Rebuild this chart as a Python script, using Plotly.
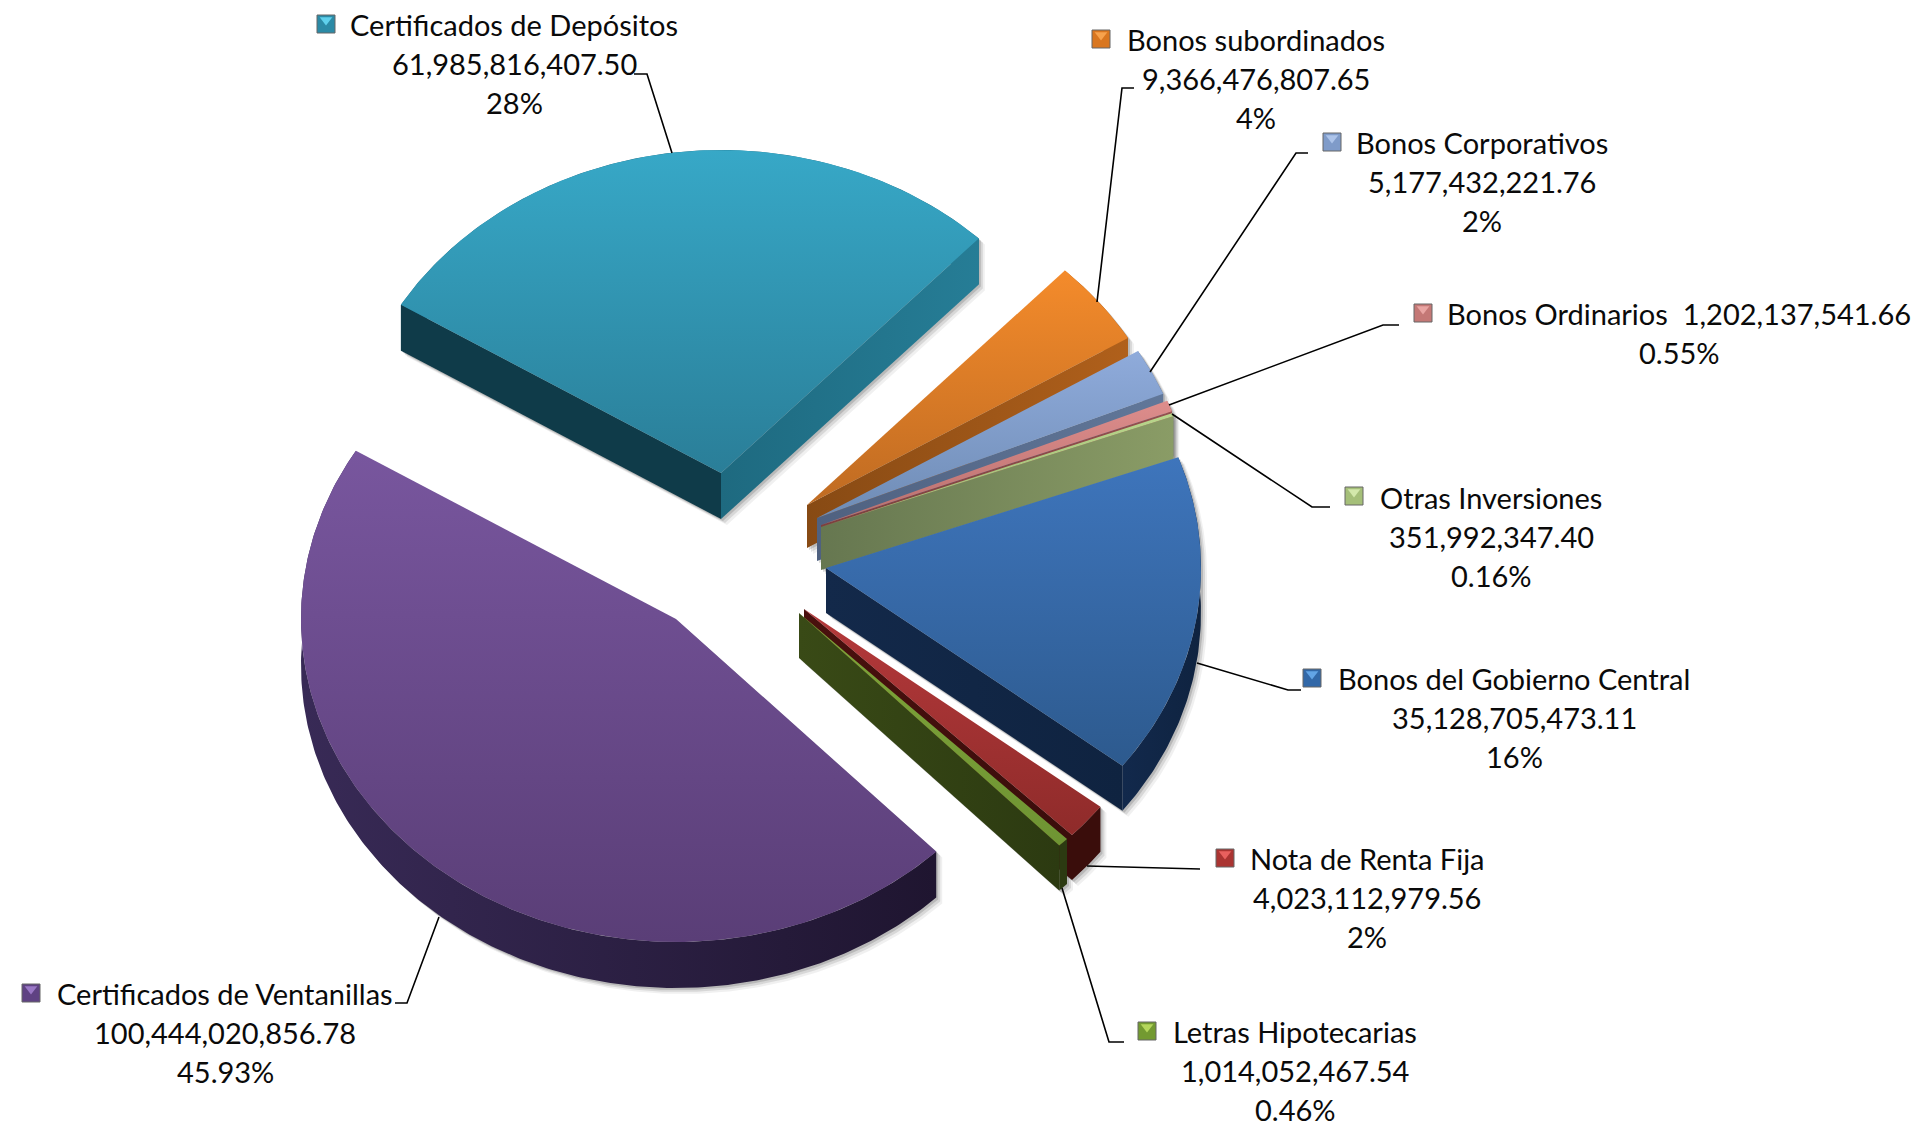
import math
import plotly.graph_objects as go

# ---------- data, clockwise from the start angle ----------
categories = ["Certificados de Depósitos", "Bonos subordinados", "Bonos Corporativos",
              "Bonos Ordinarios", "Otras Inversiones", "Bonos del Gobierno Central",
              "Nota de Renta Fija", "Letras Hipotecarias", "Certificados de Ventanillas"]
values = [61985816407.50, 9366476807.65, 5177432221.76,
          1202137541.66, 351992347.40, 35128705473.11,
          4023112979.56, 1014052467.54, 100444020856.78]
percent_labels = ["28%", "4%", "2%", "0.55%", "0.16%", "16%", "2%", "0.46%", "45.93%"]

# ---------- layout / style ----------
W, H = 1922, 1129
RX, RY = 375, 323
START_DEG = 148.6
FONT = "Lato"
FONT_SIZE = 29
LINE_STEP = 39

apex = [(721, 473), (807, 505), (817, 518), (821, 525), (821, 527),
        (826, 568), (804, 609), (799, 613), (676, 619)]
depths = [46, 43, 43, 43, 43, 45, 45, 45, 46]

# top gradient (top, bottom), start wall, end wall (left, right), rim (left, right), key colours
styles = [
    dict(top=("#37a8c7", "#2a7e98"), sw="#0f3b49", ew=("#1e6a80", "#267d96"), rim=("#1e6a80", "#1e6a80"), key=("#2b8aa6", "#5fd0ec")),
    dict(top=("#f48b2b", "#bf6b22"), sw="#7a4312", ew=("#874a14", "#b0601b"), rim=("#b0601b", "#b0601b"), key=("#d9761f", "#f7a24c")),
    dict(top=("#8fabdb", "#6f8cb5"), sw="#4b5d7d", ew=("#4f6180", "#617799"), rim=("#617799", "#617799"), key=("#7f9bc9", "#adc4ea")),
    dict(top=("#dd8d8c", "#b96f6d"), sw="#7d3f3e", ew=("#7d3f3e", "#94504f"), rim=("#94504f", "#94504f"), key=("#c47876", "#e9a5a3")),
    dict(top=("#b9d68c", "#9ab66f"), sw="#667750", ew=("#667750", "#8a9c66"), rim=("#8a9c66", "#8a9c66"), key=("#a5bf79", "#d3e8ab")),
    dict(top=("#3e75bc", "#2d5a8e"), sw="#12284a", ew=("#13294a", "#0f2340"), rim=("#12294c", "#0f2340"), key=("#3268a8", "#62a4e6")),
    dict(top=("#b5393b", "#8f2b2a"), sw="#3a0d0b", ew=("#4a100e", "#3a0d0b"), rim=("#3a0d0b", "#3a0d0b"), key=("#aa3432", "#e8605e")),
    dict(top=("#7fa539", "#6f9433"), sw="#2f3d13", ew=("#394a16", "#2c3a11"), rim=("#2c3a11", "#2c3a11"), key=("#739a31", "#b4d65c")),
    dict(top=("#78569e", "#5a3e77"), sw="#2a1b40", ew=("#2a1b40", "#1f1530"), rim=("#382a56", "#1f1530"), key=("#5f4283", "#9a78c6")),
]

# label block: centre x, first line y, key x, key y
label_pos = [(514, 24, 326, 24), (1256, 39, 1101, 39), (1482, 142, 1332, 142),
             (1679, 313, 1423, 313), (1491, 497, 1354, 496), (1514, 678, 1312, 678),
             (1367, 858, 1225, 858), (1295, 1031, 1147, 1031), (225, 993, 31, 993)]

leaders = [
    [(634, 74), (647, 74), (672, 153)],
    [(1134, 88), (1122, 88), (1097, 302)],
    [(1308, 153), (1296, 153), (1150, 372)],
    [(1399, 325), (1383, 325), (1169, 405)],
    [(1330, 507), (1312, 507), (1172, 414)],
    [(1301, 690), (1288, 690), (1197, 663)],
    [(1200, 869), (1087, 866)],
    [(1124, 1042), (1109, 1042), (1062, 888)],
    [(395, 1003), (407, 1003), (439, 917)],
]


def arc(cx, cy, t0, t1):
    n = max(3, int(abs(t0 - t1) * 1.5))
    pts = []
    for i in range(n + 1):
        t = math.radians(t0 + (t1 - t0) * i / n)
        pts.append((cx + RX * math.cos(t), cy - RY * math.sin(t)))
    return pts


def hull(points):
    pts = sorted(set(points))
    def half(seq):
        out = []
        for p in seq:
            while len(out) > 1 and ((out[-1][0] - out[-2][0]) * (p[1] - out[-2][1]) -
                                    (out[-1][1] - out[-2][1]) * (p[0] - out[-2][0])) <= 0:
                out.pop()
            out.append(p)
        return out[:-1]
    return half(pts) + half(pts[::-1])


def poly(pts, color=None, grad=None):
    xs = [p[0] for p in pts] + [pts[0][0]]
    ys = [p[1] for p in pts] + [pts[0][1]]
    kw = dict(x=xs, y=ys, mode="lines", fill="toself", line=dict(width=0),
              hoverinfo="skip", showlegend=False)
    if grad:
        kind, c0, c1 = grad
        coords = ys if kind == "vertical" else xs
        kw["fillgradient"] = dict(type=kind, colorscale=[[0, c0], [1, c1]],
                                  start=min(coords), stop=max(coords))
    else:
        kw["fillcolor"] = color
    return go.Scatter(**kw)


total = sum(values)
angles = []
t = START_DEG
for v in values:
    t1 = t - v / total * 360.0
    angles.append((t, t1))
    t = t1

# painter's order: back slices first, purple drawn before the two thin front slices
order = [0, 1, 2, 3, 4, 5, 8, 6, 7]
traces = []

for i in order:
    cx, cy = apex[i]
    d = depths[i]
    outer = arc(cx, cy, *angles[i])
    sil = hull([(cx, cy), (cx, cy + d)] + outer + [(x, y + d) for x, y in outer])
    for off, alpha in ((6, 0.06), (4, 0.10), (2, 0.14)):
        traces.append(poly([(x + off, y + off) for x, y in sil], f"rgba(0,0,0,{alpha})"))

for i in order:
    cx, cy = apex[i]
    d = depths[i]
    st = styles[i]
    t0, t1 = angles[i]
    outer = arc(cx, cy, t0, t1)
    p0, p1 = outer[0], outer[-1]
    # outer rim
    lower = [(x, y + d) for x, y in outer]
    traces.append(poly(outer + lower[::-1], grad=("horizontal", st["rim"][0], st["rim"][1])))
    # cut faces, only when they face the viewer
    if math.cos(math.radians(t0)) < 0:
        traces.append(poly([(cx, cy), p0, (p0[0], p0[1] + d), (cx, cy + d)], st["sw"]))
    if math.cos(math.radians(t1)) > 0:
        traces.append(poly([(cx, cy), p1, (p1[0], p1[1] + d), (cx, cy + d)],
                           grad=("horizontal", st["ew"][0], st["ew"][1])))
    # top face
    traces.append(poly([(cx, cy)] + outer, grad=("vertical", st["top"][0], st["top"][1])))

# key squares
for i, (_, _, kx, ky) in enumerate(label_pos):
    traces.append(go.Scatter(x=[kx], y=[ky], mode="markers", hoverinfo="skip", showlegend=False,
                             marker=dict(symbol="square", size=18, color=styles[i]["key"][0],
                                         line=dict(width=1, color="#666666"))))
    traces.append(go.Scatter(x=[kx], y=[ky - 4], mode="markers", hoverinfo="skip", showlegend=False,
                             marker=dict(symbol="triangle-down", size=11, color=styles[i]["key"][1],
                                         line=dict(width=0))))

# texts
annotations = []
for i, (lx, ly, _, _) in enumerate(label_pos):
    val = f"{values[i]:,.2f}"
    if categories[i] == "Bonos Ordinarios":
        lines = [f"{categories[i]}  {val}", percent_labels[i]]
    else:
        lines = [categories[i], val, percent_labels[i]]
    for k, line in enumerate(lines):
        annotations.append(dict(x=lx, y=ly + k * LINE_STEP, xref="x", yref="y", text=line,
                                showarrow=False, xanchor="center", yanchor="middle",
                                font=dict(family=FONT, size=FONT_SIZE, color="#0a0a0a")))

shapes = []
for pts in leaders:
    path = "M " + " L ".join(f"{x},{y}" for x, y in pts)
    shapes.append(dict(type="path", path=path, xref="x", yref="y", line=dict(color="black", width=1.6)))

fig = go.Figure(traces)
fig.update_layout(
    width=W, height=H, margin=dict(l=0, r=0, t=0, b=0),
    paper_bgcolor="white", plot_bgcolor="white", showlegend=False,
    xaxis=dict(range=[0, W], visible=False, fixedrange=True),
    yaxis=dict(range=[H, 0], visible=False, fixedrange=True),
    annotations=annotations, shapes=shapes,
)
fig.write_html("out.html", config=dict(displayModeBar=False),
               post_script="document.body.style.margin='0';document.documentElement.style.overflow='hidden';")
